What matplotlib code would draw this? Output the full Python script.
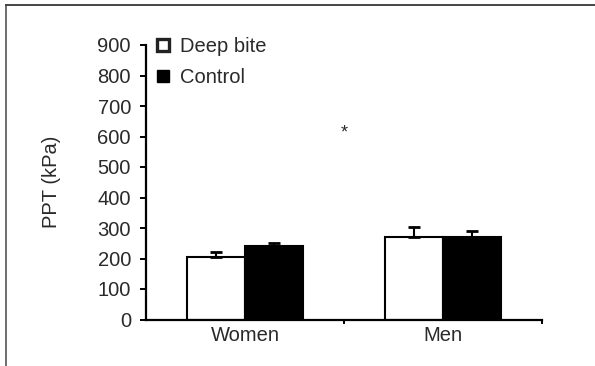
import matplotlib
matplotlib.use("Agg")
import matplotlib.pyplot as plt
from matplotlib.lines import Line2D
from matplotlib.patches import Patch
import numpy as np

plt.rcParams['font.family'] = ['Liberation Sans', 'DejaVu Sans']

groups = ["Women", "Men"]
series = ["Deep bite", "Control"]
deep_bite = [205, 270]
control = [241, 270]
deep_bite_err = [16, 33]
control_err = [10, 20]
yticks = [0, 100, 200, 300, 400, 500, 600, 700, 800, 900]

FS = 14.5
TC = "#2a2a2a"
W, H = 595, 366
fig = plt.figure(figsize=(5.95, 3.66), dpi=100)
ax = fig.add_axes([146/W, 1-319.5/H, (542-146)/W, (319.5-45)/H])

x = np.arange(len(groups))
w = 0.293
ekw = dict(elinewidth=1.5, capthick=2)
ax.bar(x - w/2, deep_bite, w, color="white", edgecolor="black", linewidth=1.5,
       yerr=[[0]*2, deep_bite_err], capsize=4.5, error_kw=ekw)
ax.bar(x + w/2, control, w, color="black", edgecolor="black", linewidth=1.5,
       yerr=[[0]*2, control_err], capsize=4.5, error_kw=ekw)

ax.set_xlim(-0.5, 1.5)
ax.set_ylim(0, 900)
ax.set_yticks(yticks)
ax.set_xticks([0.5, 1.5])
ax.set_xticklabels([])
for xi, g in zip(x, groups):
    ax.text(xi, -20, g, ha="center", va="top", fontsize=FS, color=TC)
ax.tick_params(axis="y", direction="out", length=4.3, width=1.4, labelsize=FS,
               colors="black", labelcolor=TC, pad=6.5)
ax.tick_params(axis="x", direction="out", length=3, width=1.4)
for s in ["top", "right"]:
    ax.spines[s].set_visible(False)
for s in ["left", "bottom"]:
    ax.spines[s].set_linewidth(1.6)
ax.set_ylabel("PPT (kPa)", fontsize=FS, color=TC, labelpad=26)

ax.text(0.5, 612, "*", ha="center", va="center", fontsize=13, color=TC)

handles = [Patch(facecolor="white", edgecolor="#222222", linewidth=2.4),
           Patch(facecolor="black", edgecolor="black")]
fig.legend(handles, series, loc="upper left", bbox_to_anchor=(157/W, 1-37/H), frameon=False,
           fontsize=FS, handlelength=0.62, handleheight=0.5, handletextpad=0.5, labelspacing=0.6,
           labelcolor=TC, borderpad=0, borderaxespad=0)

# outer frame
fig.add_artist(Line2D([6/W, 6/W], [0, 1-5/H], transform=fig.transFigure, color="#555555", lw=1.2))
fig.add_artist(Line2D([6/W, 1], [1-5/H, 1-5/H], transform=fig.transFigure, color="#444444", lw=1.4))

fig.savefig("out.png", dpi=100)
